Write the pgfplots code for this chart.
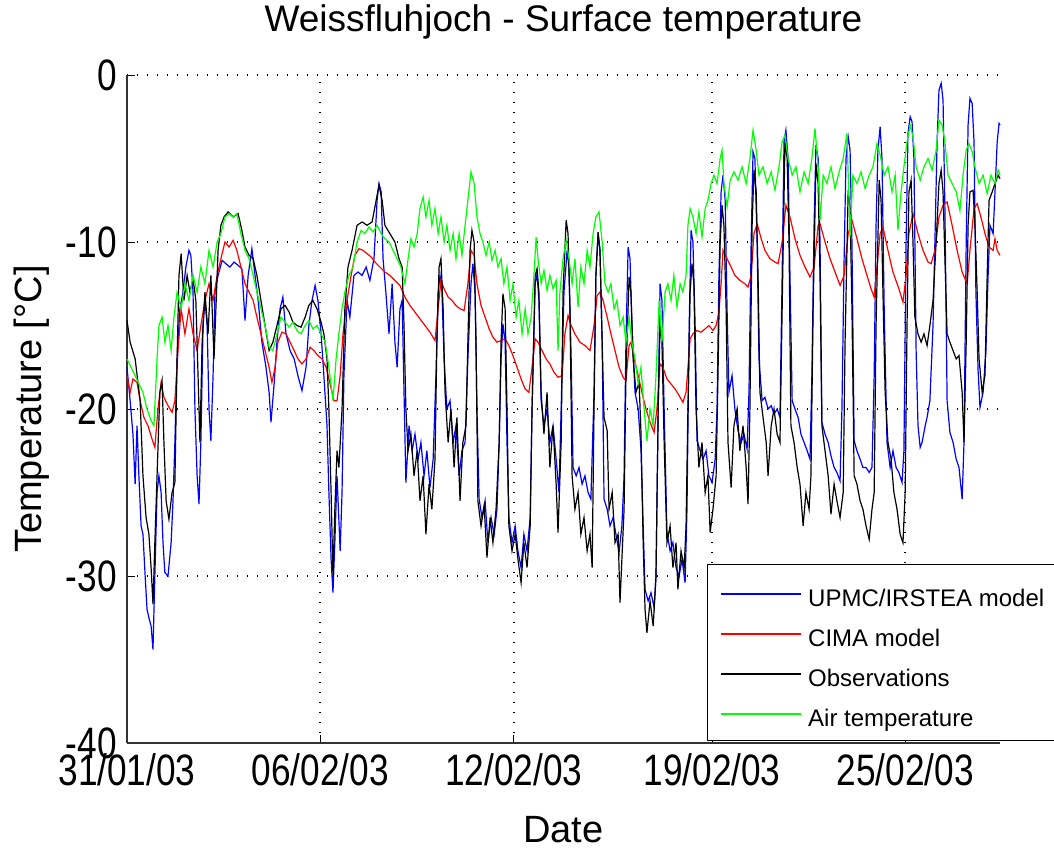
\documentclass[border=0pt]{standalone}
\usepackage{graphicx}
\usepackage{pgfplots}
\pgfplotsset{compat=1.18}
\usepackage{fontspec}
\setmainfont{Liberation Sans}
\newcommand{\tl}[1]{\scalebox{0.8}[1]{#1}}
\begin{document}
\begin{tikzpicture}
\begin{axis}[
  at={(0,0)}, anchor=south west,
  scale only axis,
  width=436.5pt, height=334pt,
  xmin=0, xmax=27.89, ymin=-40, ymax=0,
  clip=false,
  axis x line=bottom, axis y line=left,
  axis line style={-, line width=1pt, draw=black!80},
  every outer x axis line/.append style={-},
  every outer y axis line/.append style={-},
  xtick={0,6.17,12.36,18.69,24.86},
  xticklabels={\tl{31/01/03},\tl{06/02/03},\tl{12/02/03},\tl{19/02/03},\tl{25/02/03}},
  ytick={-40,-30,-20,-10,0},
  yticklabels={\tl{-40},\tl{-30},\tl{-20},\tl{-10},\tl{0}},
  tick align=inside,
  major tick length=4pt,
  tick style={black, line width=0.5pt},
  grid=major,
  grid style={black, line width=0.7pt, dash pattern=on 0.7pt off 4.3pt},
  xticklabel style={font=\fontsize{22}{22}\selectfont, anchor=base, yshift=-21pt, inner sep=0pt},
  yticklabel style={font=\fontsize{22}{22}\selectfont, anchor=east, inner sep=0pt, xshift=-5pt},
  title={Weissfluhjoch - Surface temperature},
  title style={at={(axis description cs:0.5,1)}, anchor=base, yshift=16pt, font=\fontsize{18.5}{20}\selectfont},
  xlabel={Date},
  xlabel style={at={(axis description cs:0.5,0)}, anchor=base, yshift=-49.5pt, font=\fontsize{19}{20}\selectfont},
  ylabel={Temperature [°C]},
  ylabel style={at={(axis description cs:-0.1088,0.5)}, anchor=center, rotate=0, font=\fontsize{19}{20}\selectfont},
  legend style={at={(axis description cs:0.6644,-0.009)}, anchor=south west, draw=none, fill=none,
    font=\fontsize{12}{12}\selectfont, inner xsep=6.5pt, inner ysep=8pt, row sep=8pt, column sep=3pt,
    nodes={inner sep=0pt, text height=9pt, text depth=3pt}},
  legend cell align=left,
  legend image code/.code={\draw[#1, line width=0.9pt] (0pt,3.5pt) -- (40pt,3.5pt);},
  every axis plot/.append style={line width=0.6pt},
]
\draw[black, line width=0.5pt, fill=white] (axis description cs:0.6644,0.0045) rectangle (axis description cs:1.0687,0.2665);
% UPMC/IRSTEA model
\addplot[blue] coordinates {
(0.00,-17.5)(0.10,-19.5)(0.19,-21.5)(0.26,-24.5)(0.32,-21.0)(0.38,-24.0)(0.45,-27.0)(0.51,-27.5)(0.58,-30.0)(0.64,-32.0)
(0.70,-32.5)(0.77,-33.0)(0.83,-34.4)(0.89,-30.0)(0.96,-25.0)(1.02,-24.0)(1.09,-25.0)(1.15,-28.0)(1.21,-29.8)(1.31,-30.0)
(1.41,-28.0)(1.47,-25.5)(1.53,-22.0)(1.60,-17.0)(1.69,-14.0)(1.79,-13.0)(1.88,-11.5)(1.98,-10.5)(2.04,-10.8)(2.11,-13.0)
(2.17,-20.0)(2.24,-24.0)(2.30,-25.7)(2.36,-22.0)(2.43,-15.0)(2.49,-13.5)(2.56,-15.0)(2.62,-20.0)(2.68,-21.9)(2.75,-18.0)
(2.81,-13.0)(2.91,-12.0)(3.04,-11.1)(3.16,-11.3)(3.29,-11.5)(3.42,-11.2)(3.55,-11.4)(3.67,-11.6)(3.77,-14.7)(3.87,-12.0)
(3.99,-10.4)(4.09,-12.0)(4.19,-13.5)(4.31,-16.0)(4.44,-17.5)(4.54,-19.0)(4.60,-20.8)(4.70,-18.5)(4.79,-16.0)(4.89,-14.0)
(4.98,-13.3)(5.08,-15.5)(5.21,-16.5)(5.34,-17.0)(5.46,-18.0)(5.59,-18.9)(5.72,-17.5)(5.81,-15.0)(5.91,-13.5)(6.01,-12.6)
(6.10,-13.5)(6.20,-15.5)(6.29,-18.0)(6.39,-21.0)(6.45,-25.0)(6.52,-29.0)(6.58,-31.0)(6.64,-28.0)(6.71,-24.0)(6.81,-28.5)
(6.87,-25.0)(6.93,-18.0)(7.03,-13.5)(7.12,-14.5)(7.25,-12.0)(7.38,-11.8)(7.51,-12.0)(7.64,-11.5)(7.76,-12.3)(7.89,-11.0)
(7.99,-7.5)(8.05,-6.5)(8.12,-7.0)(8.18,-11.0)(8.27,-13.0)(8.37,-15.5)(8.47,-12.5)(8.56,-16.0)(8.63,-17.5)(8.72,-14.0)
(8.79,-13.5)(8.85,-19.0)(8.91,-24.4)(9.01,-21.0)(9.11,-22.5)(9.20,-21.5)(9.30,-23.0)(9.39,-22.0)(9.49,-24.0)(9.58,-22.5)
(9.68,-24.7)(9.78,-23.0)(9.87,-18.0)(9.94,-13.0)(10.00,-12.0)(10.06,-12.9)(10.13,-17.0)(10.22,-20.0)(10.32,-19.5)(10.42,-22.0)
(10.51,-21.0)(10.61,-24.0)(10.70,-22.5)(10.80,-22.0)(10.89,-17.0)(10.99,-12.5)(11.05,-11.3)(11.12,-13.0)(11.18,-20.0)(11.25,-25.4)
(11.34,-26.5)(11.44,-25.5)(11.53,-28.0)(11.63,-26.5)(11.73,-27.5)(11.82,-26.0)(11.89,-22.0)(11.95,-17.0)(12.01,-14.9)(12.08,-16.0)
(12.14,-22.0)(12.20,-26.5)(12.30,-28.0)(12.40,-27.0)(12.49,-28.5)(12.59,-29.5)(12.68,-27.5)(12.78,-28.5)(12.88,-26.5)(12.94,-20.0)
(13.04,-12.5)(13.10,-11.9)(13.16,-13.5)(13.23,-19.5)(13.32,-21.0)(13.42,-20.0)(13.51,-22.0)(13.61,-21.0)(13.71,-23.0)(13.80,-25.0)
(13.87,-20.0)(13.96,-13.0)(14.06,-10.5)(14.12,-11.5)(14.19,-17.0)(14.25,-23.5)(14.35,-24.0)(14.44,-23.5)(14.54,-24.5)(14.63,-24.0)
(14.73,-25.0)(14.82,-25.4)(14.92,-19.0)(14.98,-12.0)(15.05,-9.5)(15.11,-10.5)(15.18,-16.0)(15.24,-25.4)(15.34,-26.0)(15.43,-27.0)
(15.53,-26.5)(15.62,-27.5)(15.72,-28.6)(15.81,-27.0)(15.88,-24.0)(15.94,-16.0)(16.01,-10.3)(16.07,-11.0)(16.13,-15.0)(16.23,-19.0)
(16.33,-20.0)(16.42,-22.4)(16.49,-27.0)(16.55,-30.8)(16.65,-31.5)(16.74,-31.0)(16.84,-31.9)(16.90,-30.0)(16.97,-20.0)(17.03,-12.5)
(17.09,-13.5)(17.16,-20.0)(17.25,-27.4)(17.35,-28.5)(17.44,-28.0)(17.54,-29.5)(17.64,-30.0)(17.73,-29.0)(17.83,-30.4)(17.89,-26.0)
(17.96,-15.0)(18.02,-9.3)(18.08,-10.0)(18.15,-15.0)(18.21,-21.9)(18.31,-22.5)(18.40,-23.0)(18.50,-22.5)(18.59,-24.0)(18.69,-24.4)
(18.79,-23.0)(18.85,-20.0)(18.91,-12.0)(18.98,-7.0)(19.04,-6.0)(19.11,-7.5)(19.17,-14.0)(19.23,-19.0)(19.33,-18.0)(19.42,-20.0)
(19.52,-21.3)(19.62,-22.0)(19.71,-21.5)(19.81,-22.4)(19.87,-19.0)(19.94,-10.0)(20.00,-4.6)(20.06,-5.0)(20.13,-10.0)(20.19,-17.0)
(20.29,-19.5)(20.38,-19.3)(20.48,-20.0)(20.58,-19.8)(20.67,-20.3)(20.77,-20.0)(20.86,-20.5)(20.93,-12.0)(20.99,-4.0)(21.05,-3.3)
(21.12,-5.0)(21.18,-12.0)(21.25,-19.5)(21.34,-20.0)(21.44,-20.5)(21.53,-21.5)(21.63,-22.0)(21.73,-22.5)(21.82,-23.0)(21.88,-18.0)
(21.95,-9.0)(22.01,-4.2)(22.08,-5.0)(22.14,-10.0)(22.20,-20.8)(22.30,-21.5)(22.40,-22.0)(22.49,-22.8)(22.59,-23.5)(22.68,-23.8)
(22.78,-24.3)(22.84,-20.0)(22.91,-11.0)(22.97,-5.0)(23.04,-3.7)(23.10,-4.5)(23.16,-10.0)(23.23,-21.9)(23.32,-22.5)(23.42,-23.0)
(23.51,-23.5)(23.61,-23.5)(23.71,-23.8)(23.80,-23.5)(23.87,-18.0)(23.93,-9.0)(23.99,-4.5)(24.06,-3.1)(24.12,-5.0)(24.19,-14.0)
(24.28,-22.0)(24.38,-23.5)(24.47,-22.5)(24.57,-23.5)(24.66,-23.8)(24.76,-24.4)(24.82,-22.5)(24.89,-10.0)(24.95,-3.5)(25.02,-2.5)
(25.08,-2.8)(25.14,-5.0)(25.21,-16.5)(25.27,-21.0)(25.34,-22.3)(25.40,-22.0)(25.50,-21.0)(25.56,-20.5)(25.65,-19.5)(25.75,-15.0)
(25.81,-10.0)(25.88,-4.0)(25.94,-0.9)(26.01,-0.5)(26.07,-1.5)(26.13,-8.0)(26.20,-19.5)(26.29,-21.4)(26.39,-22.0)(26.49,-23.0)
(26.58,-23.5)(26.68,-25.4)(26.74,-22.0)(26.81,-10.0)(26.87,-3.0)(26.93,-1.4)(27.00,-1.7)(27.06,-4.0)(27.12,-13.0)(27.19,-17.7)
(27.25,-19.9)(27.35,-19.0)(27.44,-16.5)(27.51,-12.0)(27.57,-9.0)(27.67,-9.5)(27.73,-7.0)(27.80,-4.0)(27.86,-2.9)(27.89,-3.0)
};
\addlegendentry{UPMC/IRSTEA model}
% CIMA model
\addplot[red] coordinates {
(0.00,-18.0)(0.10,-19.0)(0.19,-18.2)(0.32,-18.4)(0.42,-19.5)(0.54,-20.5)(0.67,-21.0)(0.80,-21.8)(0.89,-22.3)(0.99,-20.0)
(1.09,-18.4)(1.18,-19.3)(1.31,-19.8)(1.44,-20.2)(1.53,-19.5)(1.63,-16.5)(1.73,-14.0)(1.85,-15.5)(1.98,-14.0)(2.11,-15.5)
(2.24,-16.5)(2.36,-15.0)(2.49,-13.5)(2.62,-12.5)(2.75,-13.5)(2.88,-12.0)(3.00,-11.0)(3.13,-10.0)(3.26,-10.3)(3.39,-9.9)
(3.51,-10.5)(3.64,-11.5)(3.77,-12.5)(3.90,-13.0)(4.03,-13.5)(4.15,-14.5)(4.28,-15.5)(4.41,-16.5)(4.54,-17.5)(4.63,-18.4)
(4.73,-17.5)(4.82,-16.0)(4.95,-15.4)(5.08,-15.5)(5.21,-16.0)(5.34,-16.5)(5.46,-17.0)(5.59,-17.3)(5.72,-17.0)(5.85,-16.3)
(5.97,-16.5)(6.10,-16.8)(6.23,-17.0)(6.36,-17.5)(6.49,-18.5)(6.61,-19.5)(6.71,-19.5)(6.81,-18.0)(6.90,-15.5)(7.03,-13.5)
(7.16,-12.0)(7.28,-10.8)(7.41,-10.4)(7.54,-10.5)(7.67,-10.7)(7.80,-10.9)(7.92,-11.2)(8.08,-11.5)(8.24,-11.8)(8.40,-12.0)
(8.56,-12.3)(8.72,-12.6)(8.88,-13.3)(9.04,-13.8)(9.20,-14.2)(9.36,-14.6)(9.52,-15.0)(9.68,-15.4)(9.84,-15.9)(9.94,-14.0)
(10.03,-12.3)(10.13,-12.8)(10.26,-13.3)(10.38,-13.5)(10.51,-13.8)(10.64,-14.0)(10.77,-14.1)(10.89,-12.5)(10.99,-10.5)(11.09,-10.8)
(11.18,-12.5)(11.31,-13.8)(11.44,-14.5)(11.57,-15.2)(11.69,-15.7)(11.82,-16.0)(11.95,-15.9)(12.08,-15.8)(12.20,-16.2)(12.33,-16.8)
(12.46,-17.5)(12.59,-18.2)(12.72,-18.8)(12.84,-19.0)(12.94,-17.5)(13.04,-15.8)(13.13,-16.0)(13.26,-16.5)(13.39,-17.0)(13.51,-17.3)
(13.64,-17.8)(13.77,-18.1)(13.90,-18.0)(13.99,-15.5)(14.09,-14.4)(14.19,-15.0)(14.31,-15.5)(14.47,-16.0)(14.63,-16.2)(14.79,-16.5)
(14.92,-15.0)(15.02,-13.2)(15.11,-13.0)(15.21,-13.5)(15.34,-14.5)(15.46,-15.5)(15.59,-16.5)(15.72,-17.5)(15.85,-18.1)(15.94,-18.3)
(16.04,-16.2)(16.10,-16.0)(16.20,-17.0)(16.33,-18.0)(16.45,-19.0)(16.58,-20.0)(16.71,-20.8)(16.84,-21.4)(16.93,-20.0)(17.03,-17.3)
(17.12,-17.5)(17.25,-18.2)(17.38,-18.5)(17.51,-18.8)(17.64,-19.2)(17.76,-19.6)(17.86,-19.0)(17.99,-15.8)(18.08,-15.5)(18.21,-15.3)
(18.34,-15.4)(18.47,-15.2)(18.59,-15.0)(18.72,-15.3)(18.82,-15.0)(18.91,-14.2)(18.98,-12.5)(19.04,-10.5)(19.17,-11.0)(19.30,-11.5)
(19.42,-12.0)(19.58,-12.3)(19.74,-12.5)(19.84,-12.7)(19.94,-12.0)(20.03,-9.5)(20.13,-8.9)(20.26,-9.8)(20.38,-10.5)(20.54,-11.0)
(20.70,-11.2)(20.80,-11.3)(20.93,-10.0)(21.05,-7.8)(21.18,-8.5)(21.34,-9.8)(21.50,-10.8)(21.66,-11.5)(21.82,-12.1)(21.95,-11.5)
(22.08,-9.0)(22.14,-8.9)(22.30,-10.0)(22.46,-11.0)(22.62,-11.8)(22.78,-12.6)(22.91,-12.0)(23.04,-9.5)(23.16,-8.7)(23.32,-9.8)
(23.48,-11.0)(23.64,-12.0)(23.77,-12.8)(23.87,-13.3)(23.96,-11.5)(24.06,-9.5)(24.15,-9.1)(24.31,-10.5)(24.47,-11.8)(24.66,-12.8)
(24.79,-13.6)(24.89,-12.0)(24.98,-9.5)(25.11,-8.3)(25.27,-9.5)(25.43,-10.5)(25.59,-11.2)(25.69,-11.3)(25.81,-10.5)(25.94,-8.5)
(26.07,-7.8)(26.20,-7.6)(26.36,-9.0)(26.52,-10.5)(26.68,-11.8)(26.84,-12.5)(26.93,-10.5)(27.06,-8.0)(27.16,-7.7)(27.28,-8.5)
(27.41,-9.5)(27.54,-10.3)(27.67,-10.5)(27.73,-9.8)(27.80,-10.5)(27.89,-10.8)
};
\addlegendentry{CIMA model}
% Observations
\addplot[black] coordinates {
(0.00,-14.7)(0.10,-16.0)(0.26,-17.0)(0.42,-19.5)(0.51,-24.0)(0.61,-26.5)(0.70,-27.5)(0.77,-29.5)(0.83,-31.7)(0.89,-28.0)
(0.96,-24.0)(1.05,-19.0)(1.12,-18.3)(1.18,-22.0)(1.25,-25.5)(1.34,-26.6)(1.44,-25.0)(1.53,-24.4)(1.60,-17.0)(1.66,-12.0)
(1.73,-10.7)(1.82,-13.5)(1.92,-12.0)(2.01,-13.0)(2.11,-12.2)(2.20,-13.5)(2.27,-18.0)(2.33,-22.0)(2.40,-16.0)(2.49,-13.0)
(2.59,-15.5)(2.68,-12.0)(2.78,-17.0)(2.84,-14.0)(2.91,-10.5)(3.00,-9.0)(3.10,-8.5)(3.23,-8.2)(3.39,-8.5)(3.55,-8.3)
(3.67,-9.3)(3.77,-10.3)(3.90,-10.8)(4.03,-11.0)(4.15,-12.0)(4.28,-13.5)(4.41,-15.0)(4.54,-16.5)(4.66,-16.0)(4.79,-15.0)
(4.92,-14.0)(5.05,-13.8)(5.18,-14.2)(5.30,-14.8)(5.43,-15.0)(5.56,-15.1)(5.69,-14.5)(5.81,-13.8)(5.94,-13.5)(6.07,-14.0)
(6.20,-14.8)(6.29,-15.5)(6.39,-17.0)(6.45,-20.0)(6.52,-25.0)(6.58,-30.0)(6.64,-26.0)(6.71,-22.5)(6.77,-23.5)(6.87,-20.0)
(6.96,-14.0)(7.06,-11.5)(7.19,-10.5)(7.35,-9.0)(7.51,-8.8)(7.67,-9.0)(7.83,-8.8)(7.96,-7.5)(8.05,-6.6)(8.15,-7.5)
(8.24,-9.0)(8.40,-9.5)(8.56,-10.0)(8.69,-11.0)(8.79,-11.5)(8.85,-15.0)(8.91,-20.0)(8.98,-22.5)(9.07,-21.5)(9.17,-24.0)
(9.27,-22.5)(9.36,-25.5)(9.46,-24.0)(9.55,-27.5)(9.65,-24.5)(9.74,-26.0)(9.84,-23.0)(9.90,-16.0)(9.97,-11.5)(10.03,-11.0)
(10.10,-14.0)(10.16,-19.0)(10.26,-22.0)(10.35,-20.0)(10.45,-23.5)(10.54,-20.5)(10.64,-25.5)(10.73,-22.0)(10.83,-21.0)(10.89,-16.0)
(10.96,-10.5)(11.02,-9.3)(11.09,-10.0)(11.15,-16.0)(11.21,-25.5)(11.31,-27.0)(11.41,-25.8)(11.50,-28.9)(11.60,-26.5)(11.69,-28.0)
(11.79,-26.0)(11.89,-22.0)(11.95,-16.0)(12.01,-13.1)(12.08,-14.0)(12.14,-20.0)(12.20,-27.0)(12.30,-28.5)(12.40,-27.5)(12.49,-29.0)
(12.59,-30.4)(12.68,-28.0)(12.78,-29.5)(12.88,-27.0)(12.94,-20.0)(13.04,-12.0)(13.10,-11.6)(13.16,-13.0)(13.23,-19.0)(13.32,-21.5)
(13.42,-19.0)(13.51,-23.5)(13.61,-21.0)(13.71,-24.5)(13.77,-27.4)(13.87,-22.0)(13.93,-13.0)(14.03,-8.7)(14.09,-9.5)(14.15,-14.0)
(14.22,-24.0)(14.31,-26.0)(14.41,-25.0)(14.50,-27.5)(14.60,-26.5)(14.70,-28.5)(14.79,-27.5)(14.86,-29.5)(14.92,-20.0)(14.98,-12.0)
(15.05,-9.4)(15.11,-10.5)(15.18,-16.0)(15.24,-20.5)(15.34,-21.3)(15.40,-26.0)(15.50,-25.0)(15.59,-28.0)(15.69,-27.5)(15.75,-31.6)
(15.81,-29.0)(15.88,-26.0)(15.94,-18.0)(16.04,-12.1)(16.10,-13.0)(16.17,-17.0)(16.26,-19.0)(16.36,-18.4)(16.42,-21.4)(16.49,-28.0)
(16.55,-32.0)(16.61,-33.4)(16.71,-31.5)(16.81,-33.0)(16.90,-30.0)(16.97,-20.0)(17.03,-14.9)(17.09,-16.0)(17.16,-22.0)(17.25,-28.0)
(17.35,-27.0)(17.44,-29.5)(17.54,-28.0)(17.60,-30.8)(17.70,-28.5)(17.80,-29.5)(17.86,-27.0)(17.92,-20.0)(17.99,-13.0)(18.05,-11.3)
(18.11,-12.5)(18.18,-20.0)(18.27,-23.5)(18.37,-22.0)(18.47,-25.0)(18.56,-24.0)(18.63,-27.4)(18.72,-26.0)(18.82,-24.0)(18.88,-18.0)
(18.95,-10.0)(19.01,-7.8)(19.07,-9.0)(19.14,-14.0)(19.20,-22.0)(19.30,-24.7)(19.39,-21.0)(19.49,-20.0)(19.58,-22.5)(19.68,-21.0)
(19.78,-23.5)(19.84,-25.7)(19.90,-20.0)(19.97,-9.0)(20.03,-5.7)(20.10,-7.0)(20.16,-12.0)(20.22,-19.0)(20.32,-20.5)(20.42,-22.0)
(20.48,-24.0)(20.58,-21.0)(20.67,-20.0)(20.77,-21.5)(20.86,-22.0)(20.93,-14.0)(21.02,-4.0)(21.09,-5.0)(21.15,-10.0)(21.21,-21.0)
(21.31,-22.0)(21.41,-23.5)(21.50,-24.5)(21.60,-27.0)(21.69,-25.0)(21.79,-26.0)(21.85,-24.0)(21.92,-14.0)(22.01,-5.3)(22.08,-6.5)
(22.14,-12.0)(22.20,-21.0)(22.30,-22.5)(22.40,-24.0)(22.49,-26.3)(22.59,-24.5)(22.68,-25.5)(22.78,-26.5)(22.88,-25.0)(22.94,-16.0)
(23.04,-6.9)(23.10,-8.0)(23.16,-14.0)(23.23,-24.0)(23.32,-24.5)(23.42,-25.5)(23.51,-26.0)(23.61,-27.0)(23.71,-27.8)(23.80,-26.0)
(23.87,-25.0)(23.93,-15.0)(24.03,-6.3)(24.09,-7.5)(24.15,-13.0)(24.22,-19.0)(24.31,-22.0)(24.41,-23.0)(24.50,-25.0)(24.60,-26.0)
(24.70,-27.5)(24.79,-28.0)(24.86,-25.0)(24.92,-15.0)(24.98,-7.0)(25.05,-6.3)(25.11,-10.0)(25.17,-14.5)(25.27,-15.5)(25.37,-16.0)
(25.46,-15.5)(25.56,-16.2)(25.65,-15.0)(25.75,-13.5)(25.85,-10.0)(25.94,-6.5)(26.01,-5.7)(26.07,-7.0)(26.13,-11.0)(26.20,-15.5)
(26.29,-16.0)(26.39,-16.5)(26.49,-17.0)(26.58,-16.8)(26.68,-19.0)(26.74,-22.0)(26.81,-16.0)(26.87,-9.0)(26.93,-7.0)(27.03,-6.9)
(27.09,-9.0)(27.16,-13.0)(27.22,-17.0)(27.32,-19.0)(27.41,-18.0)(27.48,-12.0)(27.54,-7.5)(27.64,-7.0)(27.73,-6.5)(27.83,-6.0)
(27.89,-6.2)
};
\addlegendentry{Observations}
% Air temperature
\addplot[green] coordinates {
(0.00,-17.0)(0.13,-17.5)(0.26,-18.0)(0.38,-18.5)(0.51,-19.0)(0.64,-20.0)(0.77,-20.7)(0.86,-21.0)(0.96,-17.0)(1.02,-15.0)
(1.12,-14.5)(1.21,-16.0)(1.31,-15.0)(1.41,-16.5)(1.50,-14.5)(1.60,-13.0)(1.73,-14.0)(1.85,-12.5)(1.98,-13.5)(2.11,-12.0)
(2.24,-13.0)(2.36,-11.5)(2.49,-12.5)(2.62,-10.5)(2.75,-11.5)(2.88,-10.0)(3.00,-9.5)(3.13,-8.5)(3.26,-8.3)(3.39,-8.5)
(3.51,-8.3)(3.64,-9.5)(3.77,-10.5)(3.90,-11.0)(4.03,-12.0)(4.15,-13.0)(4.28,-14.0)(4.41,-15.0)(4.54,-16.3)(4.66,-16.5)
(4.79,-15.5)(4.92,-14.5)(5.05,-14.8)(5.18,-15.1)(5.30,-14.8)(5.43,-15.3)(5.56,-15.5)(5.69,-15.0)(5.81,-14.7)(5.94,-15.2)
(6.07,-15.0)(6.20,-15.5)(6.33,-16.0)(6.45,-17.5)(6.58,-19.5)(6.68,-17.0)(6.77,-15.5)(6.87,-14.0)(6.96,-13.0)(7.09,-12.0)
(7.22,-11.5)(7.35,-10.0)(7.48,-9.3)(7.60,-9.5)(7.73,-9.1)(7.86,-9.4)(7.99,-9.0)(8.12,-9.5)(8.24,-9.8)(8.37,-10.0)
(8.50,-10.5)(8.63,-11.0)(8.75,-11.5)(8.88,-12.5)(8.98,-11.0)(9.07,-9.8)(9.17,-10.3)(9.27,-9.5)(9.36,-8.0)(9.46,-7.3)
(9.55,-8.5)(9.65,-7.5)(9.74,-9.0)(9.84,-8.0)(9.94,-9.5)(10.03,-8.5)(10.13,-10.0)(10.22,-9.0)(10.32,-10.5)(10.42,-9.5)
(10.51,-11.0)(10.61,-9.5)(10.70,-10.8)(10.80,-9.0)(10.89,-7.5)(10.99,-5.8)(11.09,-6.5)(11.18,-8.5)(11.28,-9.5)(11.37,-10.0)
(11.47,-10.8)(11.57,-10.0)(11.66,-11.1)(11.76,-10.5)(11.85,-11.5)(11.95,-11.0)(12.04,-12.5)(12.14,-11.5)(12.24,-13.5)(12.33,-12.5)
(12.43,-14.5)(12.52,-13.5)(12.62,-15.5)(12.72,-14.0)(12.81,-15.5)(12.91,-14.5)(13.00,-12.0)(13.07,-9.7)(13.13,-11.0)(13.23,-12.5)
(13.32,-11.7)(13.42,-12.9)(13.51,-12.0)(13.61,-12.8)(13.71,-12.3)(13.77,-16.5)(13.83,-13.0)(13.93,-11.0)(14.03,-9.9)(14.12,-11.0)
(14.22,-12.5)(14.31,-11.0)(14.41,-13.9)(14.50,-11.5)(14.60,-12.5)(14.70,-10.5)(14.79,-11.5)(14.89,-9.5)(14.98,-8.5)(15.08,-8.2)
(15.18,-10.0)(15.27,-12.5)(15.37,-13.0)(15.46,-12.5)(15.56,-14.0)(15.65,-13.5)(15.75,-15.0)(15.85,-14.5)(15.94,-16.0)(16.04,-14.5)
(16.13,-16.0)(16.23,-17.0)(16.33,-18.5)(16.42,-17.5)(16.52,-20.0)(16.61,-21.9)(16.71,-20.0)(16.81,-21.0)(16.90,-18.0)(17.00,-13.5)
(17.09,-16.0)(17.19,-13.0)(17.28,-12.5)(17.38,-13.5)(17.47,-12.0)(17.57,-13.9)(17.67,-12.5)(17.76,-13.0)(17.86,-12.0)(17.92,-9.0)
(17.99,-8.0)(18.08,-8.5)(18.18,-9.5)(18.27,-8.2)(18.37,-9.7)(18.47,-8.0)(18.56,-7.5)(18.66,-6.5)(18.75,-6.0)(18.85,-6.5)
(18.95,-5.0)(19.01,-4.5)(19.07,-6.5)(19.17,-7.9)(19.27,-6.3)(19.39,-5.8)(19.52,-6.3)(19.65,-5.5)(19.78,-6.5)(19.90,-5.0)
(20.00,-3.3)(20.10,-4.5)(20.19,-6.0)(20.32,-5.5)(20.45,-6.5)(20.58,-5.8)(20.70,-6.9)(20.83,-5.5)(20.93,-4.0)(21.02,-3.6)
(21.12,-5.0)(21.25,-6.0)(21.37,-5.5)(21.50,-7.0)(21.63,-5.8)(21.76,-6.5)(21.88,-5.0)(21.98,-3.2)(22.08,-5.5)(22.14,-8.7)
(22.24,-6.0)(22.36,-6.5)(22.49,-5.5)(22.62,-6.8)(22.75,-5.8)(22.88,-5.0)(23.00,-3.5)(23.10,-9.7)(23.19,-6.0)(23.32,-6.5)
(23.45,-5.8)(23.58,-6.8)(23.71,-6.0)(23.83,-5.5)(23.96,-4.1)(24.06,-4.8)(24.19,-6.0)(24.31,-5.5)(24.44,-7.0)(24.54,-6.0)
(24.63,-9.3)(24.73,-7.0)(24.82,-5.5)(24.92,-4.0)(25.02,-3.0)(25.11,-3.7)(25.21,-5.5)(25.34,-6.3)(25.46,-5.5)(25.59,-5.0)
(25.72,-5.7)(25.85,-4.5)(25.94,-2.7)(26.04,-3.0)(26.13,-4.0)(26.23,-6.0)(26.36,-6.5)(26.49,-7.0)(26.61,-8.1)(26.71,-6.0)
(26.81,-4.5)(26.90,-4.1)(27.00,-4.6)(27.09,-5.5)(27.22,-6.5)(27.35,-6.0)(27.48,-7.1)(27.60,-6.0)(27.73,-6.5)(27.83,-5.7)
(27.89,-6.0)
};
\addlegendentry{Air temperature}
\end{axis}
\pgfresetboundingbox
\useasboundingbox (-63.5pt,-52pt) rectangle (463.5pt,371.5pt);
\end{tikzpicture}
\end{document}
